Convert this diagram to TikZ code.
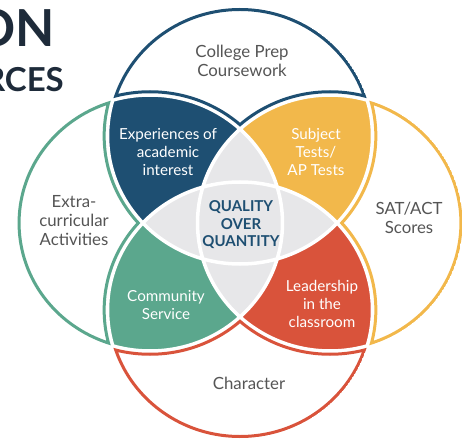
\documentclass[tikz,border=0pt]{standalone}
\usepackage{fontspec}
\setmainfont{Lato}
\definecolor{navy}{HTML}{1E4F72}
\definecolor{gold}{HTML}{F2B84B}
\definecolor{mygreen}{HTML}{5BA78D}
\definecolor{myred}{HTML}{D9533B}
\definecolor{cgray}{HTML}{E7E7E9}
\definecolor{txtgray}{HTML}{555555}
\definecolor{titlecol}{HTML}{1E2B3A}
\newcommand\cirT[1]{(240,136) ellipse [x radius={(128+#1)*1.035pt}, y radius={(128+#1)*1pt}]}
\newcommand\cirB[1]{(240,310) ellipse [x radius={(128+#1)*1.035pt}, y radius={(128+#1)*1pt}]}
\newcommand\cirL[1]{(150,223) ellipse [x radius={(128+#1)*1.035pt}, y radius={(128+#1)*1pt}]}
\newcommand\cirR[1]{(330,223) ellipse [x radius={(128+#1)*1.035pt}, y radius={(128+#1)*1pt}]}
\newcommand\bigrect{(-20,-20) rectangle (490,470)}
\tikzset{
  gapline/.style={white, line width=3.5pt},
  petal/.style={line width=3pt},
  ptext/.style={text=txtgray, font=\fontsize{16.8}{19}\selectfont, align=center, inner sep=0pt},
  otext/.style={text=white, font=\fontsize{15.2}{18}\selectfont, align=center, inner sep=0pt},
  ctext/.style={text=navy, font=\bfseries\fontsize{15}{17.5}\selectfont, align=center, inner sep=0pt}
}
\begin{document}
\begin{tikzpicture}[x=1pt,y=-1pt]
\useasboundingbox (0,0) rectangle (465,446);
\fill[white] (0,0) rectangle (465,446);
% overlaps
\begin{scope}\clip \cirT{0}; \fill[navy] \cirL{0}; \end{scope}
\begin{scope}\clip \cirT{0}; \fill[gold] \cirR{0}; \end{scope}
\begin{scope}\clip \cirB{0}; \fill[mygreen] \cirL{0}; \end{scope}
\begin{scope}\clip \cirB{0}; \fill[myred] \cirR{0}; \end{scope}
% centre
\begin{scope}\clip \cirL{0}; \fill[cgray] \cirR{0}; \end{scope}
\begin{scope}\clip \cirT{0}; \fill[cgray] \cirB{0}; \end{scope}
% gaps
\draw[gapline] \cirT{0} \cirB{0} \cirL{0} \cirR{0};
% petals
\begin{scope}[even odd rule]
  \clip \cirT{0};
  \clip \bigrect \cirL{1.75};
  \clip \bigrect \cirR{1.75};
  \draw[petal, navy] \cirT{-1.5} \cirL{3.25} \cirR{3.25};
\end{scope}
\begin{scope}[even odd rule]
  \clip \cirB{0};
  \clip \bigrect \cirL{1.75};
  \clip \bigrect \cirR{1.75};
  \draw[petal, myred] \cirB{-1.5} \cirL{3.25} \cirR{3.25};
\end{scope}
\begin{scope}[even odd rule]
  \clip \cirL{0};
  \clip \bigrect \cirT{1.75};
  \clip \bigrect \cirB{1.75};
  \draw[petal, mygreen] \cirL{-1.5} \cirT{3.25} \cirB{3.25};
\end{scope}
\begin{scope}[even odd rule]
  \clip \cirR{0};
  \clip \bigrect \cirT{1.75};
  \clip \bigrect \cirB{1.75};
  \draw[petal, gold] \cirR{-1.5} \cirT{3.25} \cirB{3.25};
\end{scope}
% texts
\node[ptext] (top) at (242,61) {College Prep\\Coursework};
\node[ptext] (left) at (74,221) {Extra-\\curricular\\Activities};
\node[ptext] (right) at (409,218) {SAT/ACT\\Scores};
\node[ptext] (bottom) at (249,383) {Character};
\node[otext] (tl) at (168,152) {Experiences of\\academic\\interest};
\node[otext] (tr) at (316,152) {Subject\\Tests/\\AP Tests};
\node[otext] (bl) at (166,305) {Community\\Service};
\node[otext] (br) at (322,304) {Leadership\\in the\\classroom};
\node[ctext] (mid) at (241,225) {QUALITY\\OVER\\QUANTITY};
% title fragments
\node[anchor=base east, inner sep=0pt, text=titlecol, font=\bfseries\fontsize{51}{51}\selectfont] (t1) at (55,47) {ON};
\node[anchor=base east, inner sep=0pt, text=titlecol, font=\bfseries\fontsize{33}{33}\selectfont] (t2) at (64,92) {RCES};
\end{tikzpicture}
\end{document}
